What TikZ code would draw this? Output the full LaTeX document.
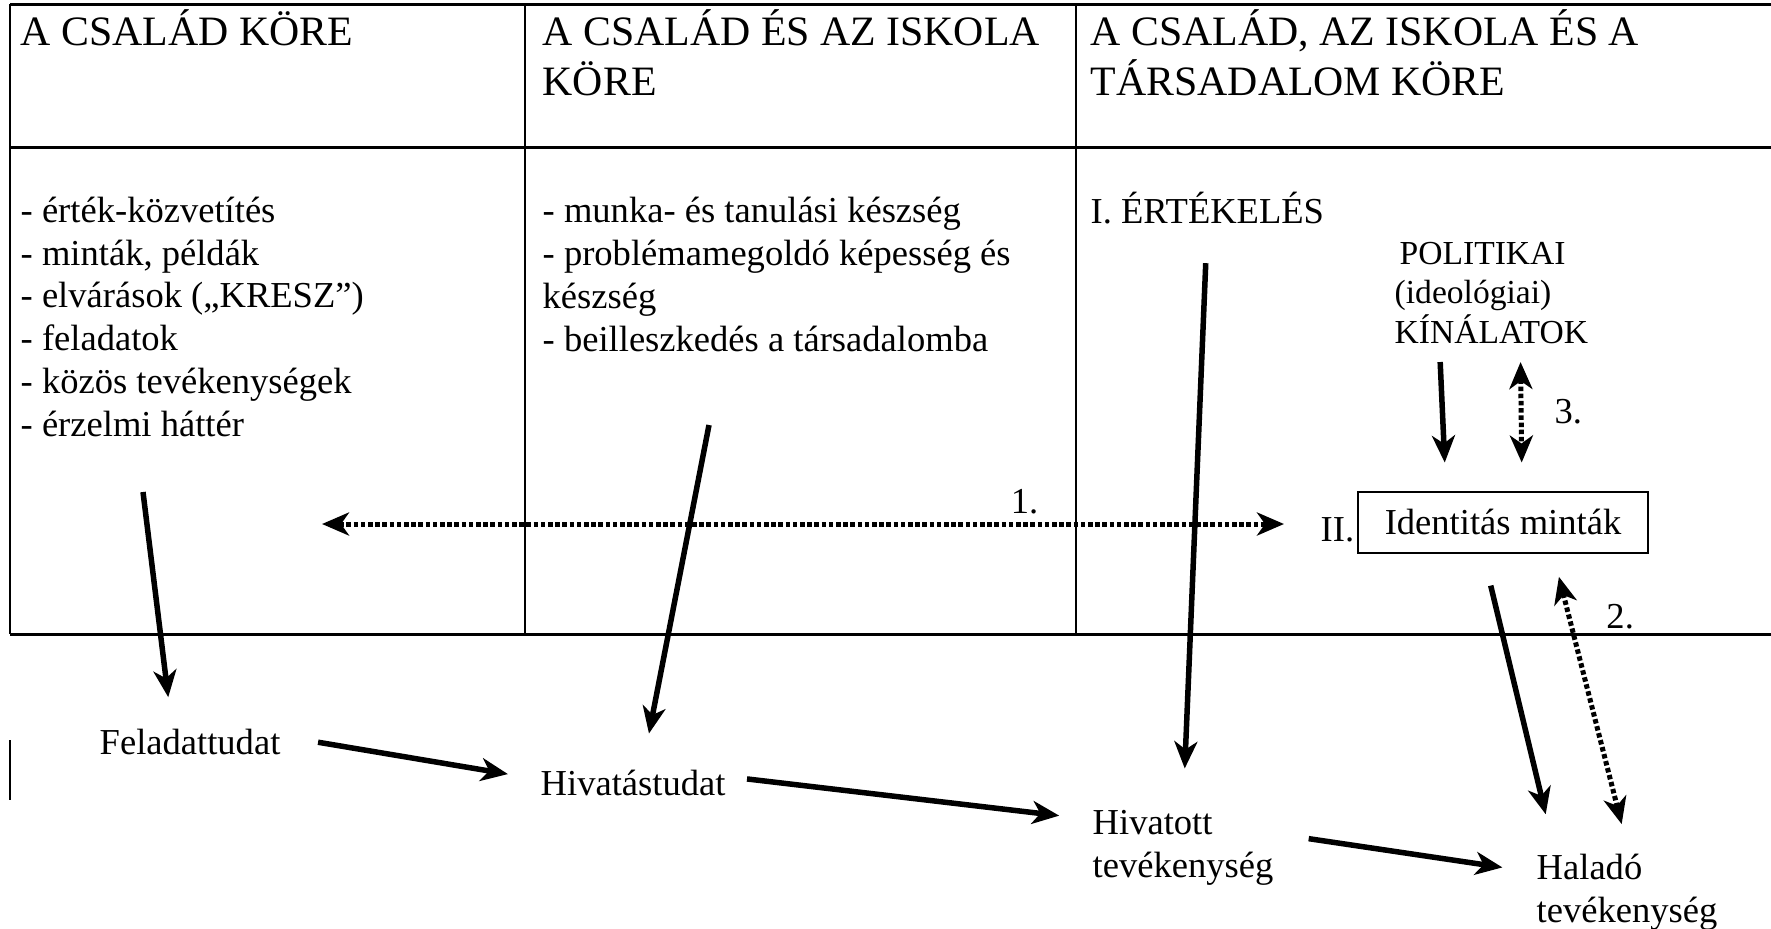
\documentclass[tikz,border=0pt]{standalone}
\usepackage{fontspec}
\setmainfont{Liberation Serif}
\usepackage{tikz}
\usetikzlibrary{arrows.meta,positioning}

\begin{document}
\begin{tikzpicture}[x=0.1mm,y=-0.1mm,>={Stealth[length=2.7mm,width=2.3mm,inset=0.8mm]},
                    font=\fontsize{10.4}{12.15}\selectfont]

  \tikzstyle{head}=[anchor=base west,align=left,inner sep=0pt,
                    font=\fontsize{11.9}{14.1}\selectfont]
  \tikzstyle{txt}=[anchor=base west,align=left,inner sep=0pt]
  \tikzstyle{polittext}=[txt,font=\fontsize{9.55}{11.24}\selectfont]
  \tikzstyle{idbox}=[draw,line width=0.2mm,minimum width=29mm,minimum height=6.1mm]
  \tikzstyle{arr}=[->,line width=0.55mm]
  \tikzstyle{dotline}=[<->,line width=0.5mm,dash pattern=on 0.45mm off 0.27mm]
  \tikzstyle{num}=[inner sep=0pt]

  \useasboundingbox (0,0) rectangle (1771,928);

  % table
  \draw[line width=0.3mm] (10,4) -- (1771,4) (10,147) -- (1771,147) (10,634) -- (1771,634);
  \draw[line width=0.2mm] (10,4) -- (10,634) (525,4) -- (525,634) (1076,4) -- (1076,634);
  \draw[line width=0.15mm] (10,740) -- (10,800);

  % multi-line nodes sit on the baseline of their last line
  \node[head] (famhead) at (20,45)   {A CSALÁD KÖRE};
  \node[head] (schhead) at (542,95)  {A CSALÁD ÉS AZ ISKOLA\\KÖRE};
  \node[head] (sochead) at (1090,95) {A CSALÁD, AZ ISKOLA ÉS A\\TÁRSADALOM KÖRE};

  \node[txt] (famlist) at (20,436)  {- érték-közvetítés\\- minták, példák\\- elvárások („KRESZ”)\\
                                      - feladatok\\- közös tevékenységek\\- érzelmi háttér};
  \node[txt] (schlist) at (542,351) {- munka- és tanulási készség\\- problémamegoldó képesség és\\
                                      készség\\- beilleszkedés a társadalomba};
  \node[txt] (ertek)   at (1090,223) {I. ÉRTÉKELÉS};
  \node[polittext] (polit) at (1394,343) {\hspace{0.5mm}POLITIKAI\\(ideológiai)\\KÍNÁLATOK};

  \node[idbox] (ident) at (1503,522) {Identitás minták};
  \node[txt] (iilab)   at (1320,541) {II.};

  \node[txt] (fela)   at (99,754)   {Feladattudat};
  \node[txt] (hiva)   at (540,795)  {Hivatástudat};
  \node[txt] (hivott) at (1092,877) {Hivatott\\tevékenység};
  \node[txt] (halado) at (1536,922) {Haladó\\tevékenység};

  \coordinate (famarr) at (143,492);
  \coordinate (scharr) at (709,425);
  \coordinate (dotl)   at (322,524);

  \path
  (famarr) edge[arr,shorten >=3.1mm] ([xshift=-1.8mm]fela.north)
  (scharr) edge[arr,shorten >=3.6mm] ([xshift=0.9mm]hiva.north)
  (ertek.south) edge[arr,shorten <=3.9mm,shorten >=4.1mm] (hivott.north)

  ([xshift=-5.2mm]polit.south) edge[arr,shorten <=1.8mm,shorten >=2.8mm] ([xshift=-5.7mm]ident.north)
  ([xshift=2.9mm]polit.south) edge[dotline,shorten <=1.8mm,shorten >=2.8mm]
        node[num,pos=.46,right=3.1mm] {3.} ([xshift=1.9mm]ident.north)

  (dotl) edge[dotline,shorten >=3.6mm] node[num,pos=.704,above=0.7mm] {1.} (dotl -| iilab.west)

  ([xshift=-2mm]ident.south) edge[arr,shorten <=3.3mm,shorten >=4mm] ([xshift=-7.2mm]halado.north)
  ([xshift=5mm]ident.south) edge[dotline,shorten <=2.4mm,shorten >=3mm]
        node[num,pos=.21,right=3.5mm] {2.} ([xshift=0.2mm]halado.north)

  ([yshift=0.55mm]fela.east) edge[arr,shorten <=3.75mm,shorten >=3.25mm] ([yshift=0.3mm]hiva.west)
  ([yshift=0.6mm]hiva.east) edge[arr,shorten <=2.1mm,shorten >=3.3mm] ([yshift=2.8mm]hivott.west)
  ([yshift=1.4mm]hivott.east) edge[arr,shorten <=3.5mm,shorten >=3.4mm] ([yshift=1.95mm]halado.west)
  ;
\end{tikzpicture}
\end{document}
